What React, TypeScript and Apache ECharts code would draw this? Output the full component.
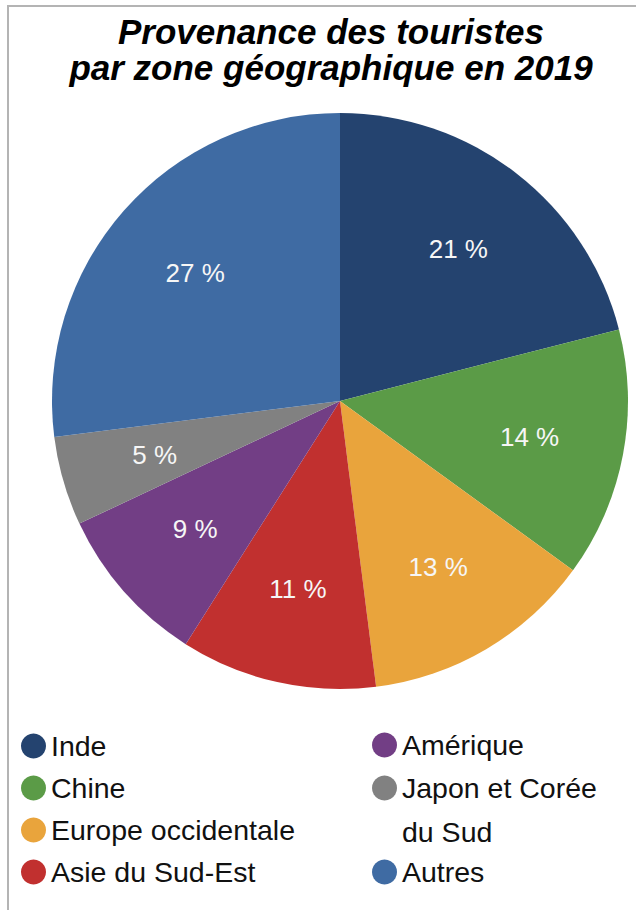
import React, { useEffect, useRef } from "react";
import * as echarts from "echarts";

const titleLines = ["Provenance des touristes", "par zone géographique en 2019"];
const categories = [
  "Inde",
  "Chine",
  "Europe occidentale",
  "Asie du Sud-Est",
  "Amérique",
  "Japon et Corée du Sud",
  "Autres",
];
const values = [21, 14, 13, 11, 9, 5, 27];
const colors = ["#24436f", "#5b9b47", "#e9a43c", "#c1302f", "#723e85", "#818181", "#3f6ba3"];
const leftLegendNames = categories.slice(0, 4);
const rightLegendNames = categories.slice(4);
const wrappedNames: Record<string, string> = {
  "Japon et Corée du Sud": "\nJapon et Corée\ndu Sud",
};

export default function App() {
  const ref = useRef<HTMLDivElement>(null);
  useEffect(() => {
    document.body.style.margin = "0";
    const chart = echarts.init(ref.current!, null, { renderer: "svg" });
    const data = categories.map((name, i) => ({
      name,
      value: values[i],
      itemStyle: { color: colors[i] },
    }));
    const legendText = {
      fontFamily: "'Liberation Sans', Arial, sans-serif",
      fontSize: 28.5,
      color: "#111",
      lineHeight: 30,
    };
    const legendBase = {
      orient: "vertical" as const,
      icon: "circle",
      itemWidth: 25,
      itemHeight: 25,
      padding: 0,
      selectedMode: false,
      itemGap: 12,
      textStyle: legendText,
      formatter: (n: string) => wrappedNames[n] || n,
    };
    chart.setOption({
      animation: false,
      backgroundColor: "#ffffff",
      graphic: [
        {
          type: "rect",
          shape: { x: 8, y: 6, width: 700, height: 1000 },
          style: { fill: "none", stroke: "#b4b4b4", lineWidth: 2 },
          silent: true,
        },
      ],
      title: {
        text: titleLines.join("\n"),
        left: 331,
        top: 13,
        textAlign: "center",
        padding: 0,
        textStyle: {
          fontFamily: "'Liberation Sans', Arial, sans-serif",
          fontSize: 35,
          fontWeight: "bold",
          fontStyle: "italic",
          lineHeight: 36,
          color: "#000",
        },
      },
      legend: [
        { ...legendBase, left: 21, top: 731, data: leftLegendNames },
        { ...legendBase, left: 372, top: 730, data: [rightLegendNames[0]] },
        {
          ...legendBase,
          left: 372,
          top: 722,
          data: [rightLegendNames[1]],
          textStyle: { ...legendText, lineHeight: 44 },
        },
        { ...legendBase, left: 372, top: 857, data: [rightLegendNames[2]] },
      ],
      series: [
        {
          type: "pie",
          center: [340, 401],
          radius: 288,
          startAngle: 90,
          clockwise: true,
          label: { show: false },
          labelLine: { show: false },
          emphasis: { disabled: true },
          data,
        },
        {
          type: "pie",
          center: [340, 401],
          radius: [100, 280],
          startAngle: 90,
          clockwise: true,
          silent: true,
          itemStyle: { color: "transparent" },
          emphasis: { disabled: true },
          label: {
            show: true,
            position: "inside",
            formatter: "{c} %",
            color: "#f6f6f6",
            fontFamily: "'Liberation Sans', Arial, sans-serif",
            fontSize: 26,
          },
          labelLine: { show: false },
          data: categories.map((name, i) => ({
            name,
            value: values[i],
            itemStyle: { color: "transparent" },
          })),
        },
      ],
    });
    return () => chart.dispose();
  }, []);
  return <div ref={ref} style={{ width: 636, height: 910 }} />;
}
